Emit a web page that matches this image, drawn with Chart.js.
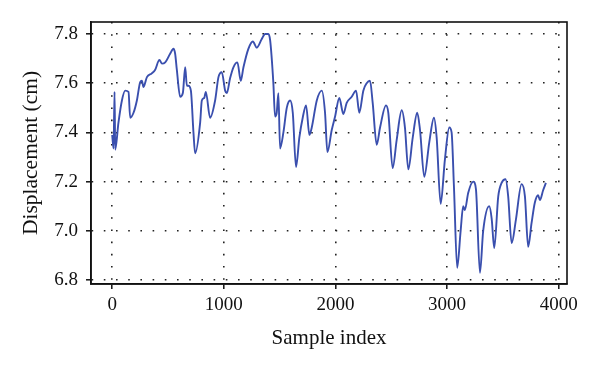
<!DOCTYPE html>
<html>
<head>
<meta charset="utf-8">
<script src="https://cdn.jsdelivr.net/npm/chart.js@4"></script>
<style>
  html, body { margin: 0; padding: 0; background: #fff; }
  #wrap { width: 600px; height: 370px; }
</style>
</head>
<body>
<div id="wrap"><canvas id="chart"></canvas></div>
<script>
const sampleIdx = [
  0, 12, 21, 27, 56, 87, 116, 146, 161, 191, 221, 251, 266, 280, 311, 355, 385, 423, 445, 475,
  519, 549, 564, 579, 609, 633, 654, 669, 683, 705, 728, 743, 788, 803, 824, 839, 877, 922, 952, 982,
  1012, 1027, 1056, 1086, 1122, 1152, 1176, 1220, 1260, 1296, 1340, 1370, 1399, 1415, 1444, 1459, 1474, 1489, 1504, 1534,
  1564, 1594, 1618, 1647, 1677, 1707, 1737, 1767, 1788, 1833, 1878, 1907, 1928, 1967, 1997, 2035, 2071, 2101, 2146, 2185,
  2214, 2250, 2280, 2310, 2334, 2370, 2400, 2453, 2474, 2513, 2549, 2594, 2623, 2653, 2693, 2733, 2758, 2796, 2841, 2883,
  2907, 2943, 2981, 3020, 3041, 3062, 3091, 3122, 3145, 3160, 3190, 3235, 3259, 3295, 3324, 3378, 3400, 3423, 3459, 3489,
  3525, 3548, 3579, 3617, 3668, 3698, 3727, 3757, 3787, 3816, 3832, 3861, 3886
];
const displacement = [
  7.39, 7.335, 7.565, 7.33, 7.44, 7.53, 7.57, 7.565, 7.46, 7.48, 7.53, 7.605, 7.61, 7.585, 7.625, 7.64, 7.655, 7.695, 7.68, 7.685,
  7.72, 7.74, 7.72, 7.655, 7.545, 7.56, 7.665, 7.59, 7.59, 7.57, 7.40, 7.315, 7.44, 7.53, 7.54, 7.565, 7.46, 7.53, 7.625, 7.645,
  7.57, 7.56, 7.62, 7.665, 7.685, 7.61, 7.665, 7.74, 7.77, 7.745, 7.78, 7.80, 7.80, 7.775, 7.60, 7.465, 7.48, 7.56, 7.335, 7.40,
  7.50, 7.53, 7.48, 7.26, 7.38, 7.46, 7.51, 7.39, 7.42, 7.53, 7.57, 7.48, 7.32, 7.41, 7.465, 7.54, 7.475, 7.52, 7.545, 7.57,
  7.48, 7.57, 7.60, 7.61, 7.52, 7.35, 7.42, 7.51, 7.48, 7.255, 7.37, 7.49, 7.42, 7.25, 7.38, 7.48, 7.41, 7.22, 7.36, 7.46,
  7.38, 7.11, 7.29, 7.42, 7.40, 7.18, 6.85, 7.00, 7.10, 7.085, 7.155, 7.20, 7.17, 6.83, 7.00, 7.10, 7.05, 6.93, 7.14, 7.195,
  7.21, 7.14, 6.95, 7.045, 7.19, 7.14, 6.935, 7.03, 7.115, 7.145, 7.125, 7.165, 7.195
];
const xTicks = [0, 1000, 2000, 3000, 4000];
const yTicks = [6.8, 7.0, 7.2, 7.4, 7.6, 7.8];

const points = sampleIdx.map((x, i) => ({ x: x, y: displacement[i] }));

const serif = '"Liberation Serif", "DejaVu Serif", serif';

// closes the frame on the top and right side
const framePlugin = {
  id: 'frame',
  afterDraw(chart) {
    const { ctx, chartArea: a } = chart;
    ctx.save();
    ctx.strokeStyle = '#111';
    ctx.lineWidth = 1.6;
    ctx.strokeRect(a.left, a.top, a.right - a.left, a.bottom - a.top);
    ctx.restore();
  }
};

const gridOpts = {
  color: '#222',
  lineWidth: 1.6,
  tickBorderDash: [],
  tickColor: '#111',
  tickWidth: 1.5,
  tickLength: 5
};
const borderOpts = { color: '#111', width: 1.6, dash: [1.6, 10.6] };

new Chart(document.getElementById('chart'), {
  type: 'line',
  data: {
    datasets: [{
      data: points,
      borderColor: '#3a4fae',
      borderWidth: 1.9,
      pointRadius: 0,
      cubicInterpolationMode: 'monotone',
      fill: false
    }]
  },
  options: {
    responsive: true,
    maintainAspectRatio: false,
    animation: false,
    layout: { padding: { top: 22, right: 33, left: 0, bottom: 0 } },
    plugins: { legend: { display: false }, tooltip: { enabled: false } },
    scales: {
      x: {
        type: 'linear',
        min: -190,
        max: 4075,
        afterBuildTicks: (axis) => { axis.ticks = xTicks.map(v => ({ value: v })); },
        afterFit: (axis) => { axis.height = 86; },
        grid: gridOpts,
        border: borderOpts,
        ticks: {
          color: '#111',
          font: { family: serif, size: 19 },
          padding: 5,
          maxRotation: 0,
          callback: (v) => String(v)
        },
        title: {
          display: true,
          text: 'Sample index',
          color: '#111',
          font: { family: serif, size: 21 },
          padding: { top: 4, bottom: 19 }
        }
      },
      y: {
        min: 6.784,
        max: 7.849,
        afterBuildTicks: (axis) => { axis.ticks = yTicks.map(v => ({ value: v })); },
        afterFit: (axis) => { axis.width = 91; },
        grid: gridOpts,
        border: borderOpts,
        ticks: {
          color: '#111',
          font: { family: serif, size: 19 },
          padding: 8,
          callback: (v) => v.toFixed(1)
        },
        title: {
          display: true,
          text: 'Displacement (cm)',
          color: '#111',
          font: { family: serif, size: 21.5 },
          padding: { top: 18, bottom: 0 }
        }
      }
    }
  },
  plugins: [framePlugin]
});
</script>
</body>
</html>
